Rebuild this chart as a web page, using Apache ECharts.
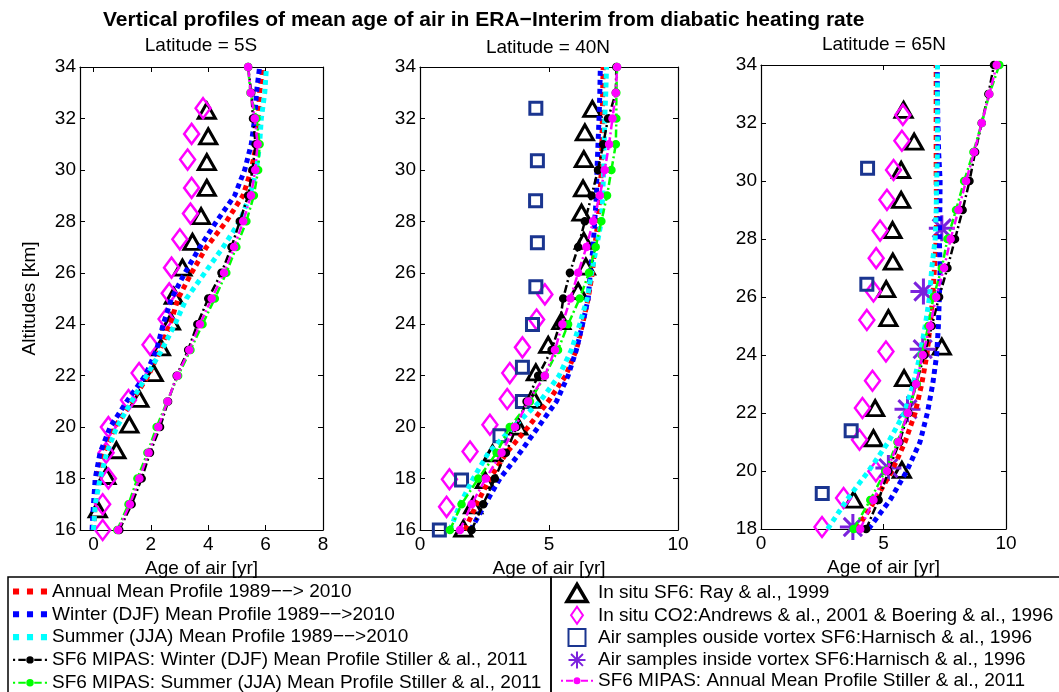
<!DOCTYPE html>
<html lang="en">
<head>
    <meta charset="UTF-8">
    <title>Mean age of air profiles</title>
    <style>
        html, body { margin: 0; padding: 0; background: #fff; }
        #main { width: 1059px; height: 692px; }
    </style>
    <script src="https://cdn.jsdelivr.net/npm/echarts@6.0.0/dist/echarts.min.js"></script>
</head>
<body>
<div id="main"></div>
<script type="text/javascript">
    // altitude levels (km)
    var alt16 = [16, 17, 18, 19, 20, 21, 22, 23, 24, 25, 26, 27, 28, 29, 30, 31, 32, 33, 34];
    var alt18 = [18, 19, 20, 21, 22, 23, 24, 25, 26, 27, 28, 29, 30, 31, 32, 33, 34];

    // ---- Latitude = 5S ----
    var eraAnnual5S = [0, 0.06, 0.12, 0.35, 0.75, 1.33, 1.91, 2.32, 2.67, 2.95, 3.42, 3.94, 4.63, 5.21, 5.5, 5.68, 5.74, 5.79, 5.91];
    var eraWinter5S = [-0.05, 0, 0.06, 0.23, 0.58, 1.16, 1.8, 2.2, 2.43, 2.72, 3.19, 3.71, 4.29, 4.92, 5.27, 5.5, 5.62, 5.68, 5.79];
    var eraSummer5S = [0, 0.06, 0.23, 0.46, 0.81, 1.33, 1.85, 2.38, 2.84, 3.24, 3.88, 4.52, 5.1, 5.45, 5.68, 5.79, 5.85, 5.97, 6.03];
    var mipasWinter5S = [0.9, 1.33, 1.68, 1.97, 2.32, 2.6, 2.9, 3.3, 3.62, 4.0, 4.46, 4.81, 5.1, 5.39, 5.54, 5.65, 5.56, 5.5, 5.39];
    var mipasSummer5S = [0.83, 1.22, 1.53, 1.88, 2.2, 2.57, 2.95, 3.38, 3.8, 4.23, 4.63, 4.98, 5.33, 5.59, 5.74, 5.79, 5.68, 5.47, 5.39];
    var mipasAnnual5S = [0.86, 1.27, 1.6, 1.92, 2.26, 2.58, 2.92, 3.34, 3.71, 4.12, 4.55, 4.9, 5.22, 5.49, 5.64, 5.72, 5.62, 5.48, 5.39];
    var rayAlt5S = [16.8, 18.1, 19.1, 20.1, 21.1, 22.1, 23.1, 24.1, 25.1, 26.2, 27.2, 28.2, 29.3, 30.3, 31.3, 32.3];
    var rayAge5S = [0.15, 0.45, 0.8, 1.25, 1.6, 2.1, 2.35, 2.7, 2.8, 3.1, 3.45, 3.75, 3.95, 3.95, 4.0, 3.95];
    var co2Alt5S = [16.0, 17.0, 18.0, 19.0, 20.0, 21.05, 22.1, 23.2, 24.2, 25.2, 26.2, 27.3, 28.3, 29.3, 30.4, 31.4, 32.4];
    var co2Age5S = [0.32, 0.32, 0.52, 0.44, 0.52, 1.22, 1.59, 1.97, 2.53, 2.64, 2.72, 3.01, 3.38, 3.42, 3.28, 3.42, 3.82];

    // ---- Latitude = 40N ----
    var eraAnnual40N = [1.74, 2.19, 2.71, 3.35, 4.19, 4.97, 5.65, 6.06, 6.3, 6.52, 6.68, 6.77, 6.9, 6.97, 7.03, 7.05, 7.07, 7.08, 7.1];
    var eraWinter40N = [1.96, 2.52, 3.1, 3.87, 4.58, 5.29, 5.74, 6.06, 6.3, 6.52, 6.6, 6.71, 6.77, 6.84, 6.86, 6.9, 6.94, 6.97, 6.99];
    var eraSummer40N = [1.16, 1.55, 2.06, 2.65, 3.61, 4.65, 5.39, 5.87, 6.19, 6.48, 6.65, 6.84, 7.03, 7.08, 7.12, 7.14, 7.16, 7.2, 7.23];
    var mipasWinter40N = [2.0, 2.45, 2.9, 3.33, 3.74, 4.13, 4.58, 5.1, 5.42, 5.55, 5.81, 6.13, 6.39, 6.65, 6.9, 7.1, 7.29, 7.59, 7.61];
    var mipasSummer40N = [1.16, 1.61, 2.26, 2.97, 3.48, 4.26, 4.84, 5.35, 5.74, 6.19, 6.55, 6.81, 7.03, 7.25, 7.42, 7.59, 7.61, 7.61, 7.64];
    var mipasAnnual40N = [1.55, 2.0, 2.55, 3.16, 3.68, 4.19, 4.84, 5.23, 5.52, 5.83, 6.13, 6.45, 6.71, 6.97, 7.16, 7.33, 7.46, 7.59, 7.64];
    var rayAlt40N = [16.05, 16.96, 17.94, 18.98, 20.02, 21.06, 22.13, 23.2, 24.12, 25.29, 26.24, 27.24, 28.34, 29.28, 30.42, 31.46, 32.37];
    var rayAge40N = [1.68, 2.06, 2.52, 2.81, 3.81, 4.43, 4.49, 4.97, 5.48, 6.13, 6.43, 6.35, 6.26, 6.32, 6.35, 6.39, 6.68];
    var co2Alt40N = [16.9, 17.97, 19.05, 20.09, 21.09, 22.1, 23.1, 24.18, 25.16];
    var co2Age40N = [1.03, 1.14, 1.94, 2.71, 3.38, 3.48, 3.97, 4.52, 4.84];
    var outAlt40N = [16.0, 17.94, 19.66, 21.0, 22.33, 23.99, 25.46, 27.17, 28.8, 30.36, 32.4];
    var outAge40N = [0.75, 1.61, 3.1, 3.97, 3.97, 4.36, 4.49, 4.55, 4.48, 4.55, 4.49];

    // ---- Latitude = 65N ----
    var eraAnnual65N = [3.91, 4.66, 5.34, 5.88, 6.29, 6.56, 6.77, 6.9, 7.01, 7.08, 7.15, 7.17, 7.15, 7.15, 7.15, 7.15, 7.15];
    var eraWinter65N = [4.39, 5.27, 5.95, 6.49, 6.79, 7.01, 7.17, 7.24, 7.28, 7.31, 7.28, 7.3, 7.31, 7.25, 7.22, 7.2, 7.2];
    var eraSummer65N = [2.72, 3.5, 4.39, 5.2, 5.85, 6.22, 6.49, 6.7, 6.88, 6.97, 7.11, 7.15, 7.17, 7.2, 7.2, 7.2, 7.2];
    var mipasWinter65N = [4.29, 4.8, 5.2, 5.65, 6.02, 6.33, 6.67, 6.97, 7.27, 7.61, 7.92, 8.23, 8.51, 8.74, 9.01, 9.28, 9.51];
    var mipasSummer65N = [3.78, 4.46, 5.07, 5.57, 5.98, 6.36, 6.56, 6.83, 7.04, 7.38, 7.61, 7.96, 8.29, 8.67, 9.01, 9.32, 9.73];
    var mipasAnnual65N = [4.05, 4.59, 5.14, 5.61, 5.99, 6.33, 6.6, 6.9, 7.15, 7.47, 7.74, 8.06, 8.37, 8.7, 9.01, 9.32, 9.62];
    var rayAlt65N = [19.01, 20.04, 21.13, 22.17, 23.2, 24.29, 25.27, 26.27, 27.22, 28.31, 29.35, 30.38, 31.36, 32.45];
    var rayAge65N = [3.78, 5.75, 4.59, 4.66, 5.84, 7.38, 5.2, 5.11, 5.38, 5.37, 5.72, 5.72, 6.25, 5.82];
    var co2Alt65N = [18.07, 19.07, 19.99, 21.08, 22.17, 23.11, 24.12, 25.21, 26.19, 27.34, 28.29, 29.35, 30.38, 31.39, 32.28];
    var co2Age65N = [2.49, 3.37, 4.69, 4.02, 4.14, 4.55, 5.1, 4.32, 4.59, 4.7, 4.86, 5.14, 5.41, 5.75, 5.79];
    var outAlt65N = [19.22, 21.39, 26.44, 30.44];
    var outAge65N = [2.5, 3.68, 4.32, 4.35];
    var inAlt65N = [18.07, 20.1, 22.13, 24.2, 26.19, 28.37];
    var inAge65N = [3.75, 5.2, 5.98, 6.6, 6.63, 7.38];

    var panelTitles = ['Latitude = 5S', 'Latitude = 40N', 'Latitude = 65N'];
    var xTicks5S = [0, 2, 4, 6, 8];

    var names = {
        annual: 'Annual Mean Profile 1989\u2212\u2212> 2010',
        winter: 'Winter (DJF) Mean Profile 1989\u2212\u2212>2010',
        summer: 'Summer (JJA) Mean Profile 1989\u2212\u2212>2010',
        mWinter: 'SF6 MIPAS: Winter (DJF) Mean Profile Stiller & al., 2011',
        mSummer: 'SF6 MIPAS: Summer (JJA) Mean Profile Stiller & al., 2011',
        ray: 'In situ SF6: Ray & al., 1999',
        co2: 'In situ CO2:Andrews & al., 2001 & Boering & al., 1996',
        out: 'Air samples ouside vortex SF6:Harnisch & al., 1996',
        inside: 'Air samples inside vortex SF6:Harnisch & al., 1996',
        mAnnual: 'SF6 MIPAS: Annual Mean Profile Stiller & al., 2011'
    };

    var FONT = 'Liberation Sans, Arial, Helvetica, sans-serif';
    var FS = 19;
    var STAR = 'path://M10,0L10,20M0,10L20,10M3,3L17,17M3,17L17,3';
    // legend icons (keep their aspect inside the legend box)
    var DOTS = 'path://M0,0h5v5h-5zM11.5,0h5v5h-5zM23,0h5v5h-5z';
    var DASHDOT = 'path://M0,4h2v2h-2zM5,4h7v2h-7zM12.5,5a3.5,3.5 0 1,0 7,0a3.5,3.5 0 1,0 -7,0zM20,4h7v2h-7zM30,4h2v2h-2z';
    var TRI = 'path://M10,0L20,17L0,17Z';
    var DIAM = 'path://M7,0L14,10L7,20L0,10Z';
    var SQ = 'path://M0,0L10,0L10,10L0,10Z';

    function pairs(xs, ys) {
        var out = [];
        for (var i = 0; i < xs.length; i++) {
            out.push([xs[i], ys[i]]);
        }
        return out;
    }

    function eraLine(name, color, ages, alts, p) {
        return {
            name: name, type: 'line', xAxisIndex: p, yAxisIndex: p,
            data: pairs(ages, alts), symbol: 'none', clip: false,
            lineStyle: { color: color, width: 5, type: [5, 4], cap: 'butt' },
            itemStyle: { color: color }
        };
    }

    function mipasLine(name, color, ages, alts, p) {
        return {
            name: name, type: 'line', xAxisIndex: p, yAxisIndex: p,
            data: pairs(ages, alts), symbol: 'circle', symbolSize: 7, clip: false,
            showAllSymbol: true,
            lineStyle: { color: color, width: 2.5, type: [8, 3, 2, 3] },
            itemStyle: { color: color, borderColor: color, borderWidth: 1.5 }
        };
    }

    function points(name, symbol, size, color, ages, alts, p, bw) {
        return {
            name: name, type: 'scatter', xAxisIndex: p, yAxisIndex: p,
            data: pairs(ages, alts), symbol: symbol, symbolSize: size, clip: false,
            itemStyle: { color: 'none', borderColor: color, borderWidth: bw, opacity: 1 }
        };
    }

    var grids = [
        { left: 80, top: 67, width: 243, height: 463 },
        { left: 420, top: 67, width: 258, height: 463 },
        { left: 761, top: 65, width: 245, height: 464 }
    ];
    var xRange = [[-0.47, 8, 2], [0, 10, 5], [0, 10, 5]];
    var yRange = [[16, 34], [16, 34], [18, 34]];

    var xAxes = [], yAxes = [];
    var axisLine = { show: true, onZero: false, lineStyle: { color: '#000', width: 1.2 } };
    for (var side = 0; side < 2; side++) {
        for (var g = 0; g < 3; g++) {
            var xa = {
                type: 'value', gridIndex: g, position: side === 0 ? 'bottom' : 'top',
                min: xRange[g][0], max: xRange[g][1],
                splitLine: { show: false }, axisLine: axisLine,
                axisTick: { show: true, inside: true, length: 5, lineStyle: { color: '#000' } },
                axisLabel: { show: side === 0, color: '#000', fontSize: FS, fontFamily: FONT, margin: 5 }
            };
            if (g === 0) {
                xa.axisTick.customValues = xTicks5S;
                xa.axisLabel.customValues = xTicks5S;
            } else {
                xa.interval = xRange[g][2];
            }
            if (side === 0) {
                xa.name = 'Age of air [yr]';
                xa.nameLocation = 'middle';
                xa.nameGap = 27;
                xa.nameTextStyle = { color: '#000', fontSize: FS, fontFamily: FONT };
            }
            xAxes.push(xa);

            var ya = {
                type: 'value', gridIndex: g, position: side === 0 ? 'left' : 'right',
                min: yRange[g][0], max: yRange[g][1], interval: 2,
                splitLine: { show: false }, axisLine: axisLine,
                axisTick: { show: true, inside: true, length: 5, lineStyle: { color: '#000' } },
                axisLabel: { show: side === 0, color: '#000', fontSize: FS, fontFamily: FONT, margin: 4 }
            };
            if (side === 0 && g === 0) {
                ya.name = 'Altitudes [km]';
                ya.nameLocation = 'middle';
                ya.nameGap = 41;
                ya.nameRotate = 90;
                ya.nameTextStyle = { color: '#000', fontSize: FS, fontFamily: FONT };
            }
            yAxes.push(ya);
        }
    }

    var panels = [
        { alt: alt16, era: [eraAnnual5S, eraWinter5S, eraSummer5S], mipas: [mipasWinter5S, mipasSummer5S, mipasAnnual5S],
          ray: [rayAge5S, rayAlt5S], co2: [co2Age5S, co2Alt5S], out: null, inside: null },
        { alt: alt16, era: [eraAnnual40N, eraWinter40N, eraSummer40N], mipas: [mipasWinter40N, mipasSummer40N, mipasAnnual40N],
          ray: [rayAge40N, rayAlt40N], co2: [co2Age40N, co2Alt40N], out: [outAge40N, outAlt40N], inside: null },
        { alt: alt18, era: [eraAnnual65N, eraWinter65N, eraSummer65N], mipas: [mipasWinter65N, mipasSummer65N, mipasAnnual65N],
          ray: [rayAge65N, rayAlt65N], co2: [co2Age65N, co2Alt65N], out: [outAge65N, outAlt65N], inside: [inAge65N, inAlt65N] }
    ];

    var series = [];
    panels.forEach(function (pn, p) {
        series.push(eraLine(names.annual, '#ff0000', pn.era[0], pn.alt, p));
        series.push(eraLine(names.winter, '#0000ff', pn.era[1], pn.alt, p));
        series.push(eraLine(names.summer, '#00ffff', pn.era[2], pn.alt, p));
        series.push(mipasLine(names.mWinter, '#000000', pn.mipas[0], pn.alt, p));
        series.push(mipasLine(names.mSummer, '#00ff00', pn.mipas[1], pn.alt, p));
        series.push(points(names.ray, 'triangle', [17, 15], '#000000', pn.ray[0], pn.ray[1], p, 3));
        series.push(points(names.co2, 'diamond', [15, 20], '#ff00ff', pn.co2[0], pn.co2[1], p, 2.5));
        if (pn.out) series.push(points(names.out, 'rect', 12, '#1a3590', pn.out[0], pn.out[1], p, 3));
        if (pn.inside) series.push(points(names.inside, STAR, 26, '#7b22dd', pn.inside[0], pn.inside[1], p, 3));
        series.push(mipasLine(names.mAnnual, '#ff00ff', pn.mipas[2], pn.alt, p));
    });

    var legendText = { color: '#000', fontSize: FS, fontFamily: FONT };
    var thinIcon = { borderWidth: 0 };

    var option = {
        animation: false,
        backgroundColor: '#fff',
        grid: grids,
        xAxis: xAxes,
        yAxis: yAxes,
        legend: [
            {
                data: [
                    { name: names.annual, icon: DOTS },
                    { name: names.winter, icon: DOTS },
                    { name: names.summer, icon: DOTS },
                    { name: names.mWinter, icon: DASHDOT, itemStyle: thinIcon },
                    { name: names.mSummer, icon: DASHDOT, itemStyle: thinIcon }
                ],
                orient: 'vertical', left: 13, top: 582, height: 150, padding: 0,
                itemWidth: 34, itemHeight: 15, itemGap: 3.8, selectedMode: false,
                textStyle: legendText
            },
            {
                data: [
                    { name: names.ray, icon: TRI, itemStyle: { borderWidth: 3.5 } },
                    { name: names.co2, icon: DIAM },
                    { name: names.out, icon: SQ },
                    { name: names.inside, icon: STAR },
                    { name: names.mAnnual, icon: DASHDOT, itemStyle: thinIcon }
                ],
                orient: 'vertical', left: 561, top: 582, height: 150, padding: 0,
                itemWidth: 32, itemHeight: 17, itemGap: 0.3, selectedMode: false,
                textStyle: legendText
            }
        ],
        graphic: [
            { type: 'text', left: 103, top: 10,
              style: { text: 'Vertical profiles of mean age of air in ERA\u2212Interim from diabatic heating rate',
                       fill: '#000', font: 'bold 21px ' + FONT } },
            { type: 'text', x: 201, y: 46, style: { text: panelTitles[0], fill: '#000', font: FS + 'px ' + FONT, align: 'center', verticalAlign: 'middle' } },
            { type: 'text', x: 548, y: 48, style: { text: panelTitles[1], fill: '#000', font: FS + 'px ' + FONT, align: 'center', verticalAlign: 'middle' } },
            { type: 'text', x: 884, y: 45, style: { text: panelTitles[2], fill: '#000', font: FS + 'px ' + FONT, align: 'center', verticalAlign: 'middle' } },
            { type: 'rect', shape: { x: 8, y: 577, width: 543, height: 120 }, style: { fill: 'none', stroke: '#000', lineWidth: 1.5 } },
            { type: 'rect', shape: { x: 551, y: 577, width: 512, height: 120 }, style: { fill: 'none', stroke: '#000', lineWidth: 1.5 } }
        ],
        series: series
    };

    var myChart = echarts.init(document.getElementById('main'));
    myChart.setOption(option);
</script>
</body>
</html>
